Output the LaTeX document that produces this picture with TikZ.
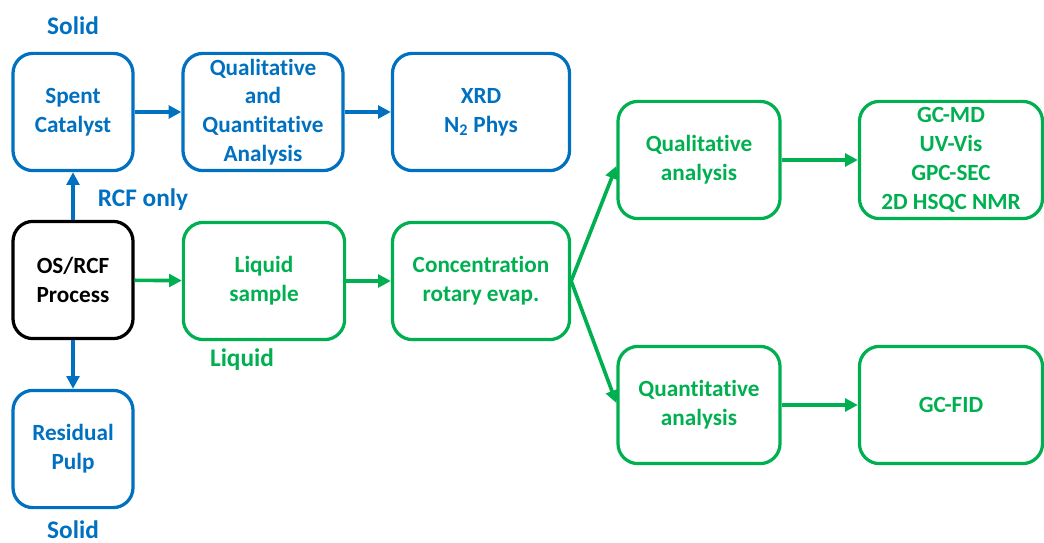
\documentclass[tikz,border=0pt]{standalone}
\usepackage{fontspec}
\setmainfont{Carlito}[Ligatures=NoCommon]
\usetikzlibrary{arrows,arrows.meta,shapes,positioning}
\definecolor{flowblue}{RGB}{0,112,192}
\definecolor{flowgreen}{RGB}{0,176,80}
\tikzstyle{box} = [draw, line width=2.3pt, rounded corners=0.5cm, align=center, inner sep=0pt, minimum height=2.93cm, font=\bfseries\fontsize{16.5}{20.5}\selectfont]
\tikzstyle{bluebox} = [box, color=flowblue]
\tikzstyle{greenbox} = [box, color=flowgreen]
\tikzstyle{label} = [font=\bfseries\fontsize{18}{22}\selectfont]
\tikzstyle{arrow} = [line width=2.6pt,-{Triangle[length=9pt,width=9pt]}]

\begin{document}
\begin{tikzpicture}[x=0.025cm, y=-0.025cm]
\useasboundingbox (0,0) rectangle (1044,543);
% Solid branch
\node[box, minimum width=3cm] (proc) at (73,280) {OS/RCF\\Process};
\node[bluebox, minimum width=3cm] (spent) at (73,112) {Spent\\Catalyst};
\node[bluebox, minimum width=4cm] (qqa) at (263,112) {Qualitative\\and\\Quantitative\\Analysis};
\node[bluebox, minimum width=4.425cm] (xrd) at (481,112) {XRD\\N\textsubscript{2} Phys};
\node[bluebox, minimum width=3cm] (pulp) at (73,449) {Residual\\Pulp};

% Liquid branch
\node[greenbox, minimum width=4.03cm] (liq) at (264,281) {Liquid\\sample};
\node[greenbox, minimum width=4.425cm] (conc) at (481,281) {Concentration\\rotary evap.};
\node[greenbox, minimum width=4.05cm] (quala) at (699,160) {Qualitative\\analysis};
\node[greenbox, minimum width=4.575cm] (gcms) at (951,160) {GC-MD\\UV-Vis\\GPC-SEC\\2D HSQC NMR};
\node[greenbox, minimum width=4.05cm] (quanta) at (699,405) {Quantitative\\analysis};
\node[greenbox, minimum width=4.575cm] (gcfid) at (951,405) {GC-FID};

% Labels
\node[label, flowblue] (solidtop) at (73,26) {Solid};
\node[label, flowblue] (solidbot) at (73,530) {Solid};
\node[label, flowblue] (rcf) at (143,200) {RCF only};
\node[label, flowgreen] (liqlab) at (242,360) {Liquid};

% Arrows
\draw[arrow, flowblue] (proc) -- (spent);
\draw[arrow, flowblue] (proc) -- (pulp);
\draw[arrow, flowblue] (spent) -- (qqa);
\draw[arrow, flowblue] (qqa) -- (xrd);
\draw[arrow, flowgreen] (proc) -- (liq);
\draw[arrow, flowgreen] (liq) -- (conc);
\draw[arrow, flowgreen] (conc.east) -- ([yshift=-0.15cm]quala.west);
\draw[arrow, flowgreen] (conc.east) -- ([yshift=0.05cm]quanta.west);
\draw[arrow, flowgreen] (quala) -- (gcms);
\draw[arrow, flowgreen] (quanta) -- (gcfid);
\end{tikzpicture}
\end{document}
